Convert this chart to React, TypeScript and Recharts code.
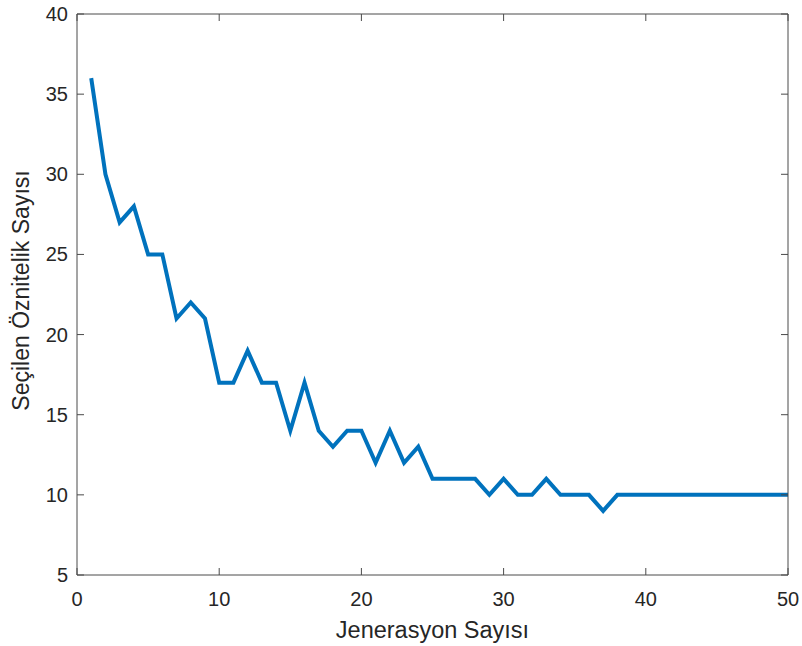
import React from 'react';
import { LineChart, Line, XAxis, YAxis, Label } from 'recharts';

const generations: number[] = [
  1, 2, 3, 4, 5, 6, 7, 8, 9, 10, 11, 12, 13, 14, 15, 16, 17, 18, 19, 20, 21, 22, 23, 24, 25,
  26, 27, 28, 29, 30, 31, 32, 33, 34, 35, 36, 37, 38, 39, 40, 41, 42, 43, 44, 45, 46, 47, 48, 49, 50,
];
const selectedFeatures: number[] = [
  36, 30, 27, 28, 25, 25, 21, 22, 21, 17, 17, 19, 17, 17, 14, 17, 14, 13, 14, 14, 12, 14, 12, 13, 11,
  11, 11, 11, 10, 11, 10, 10, 11, 10, 10, 10, 9, 10, 10, 10, 10, 10, 10, 10, 10, 10, 10, 10, 10, 10,
];
const xTicks: number[] = [0, 10, 20, 30, 40, 50];
const yTicks: number[] = [5, 10, 15, 20, 25, 30, 35, 40];
const xLabel = 'Jenerasyon Sayısı';
const yLabel = 'Seçilen Öznitelik Sayısı';

const data = generations.map((g, i) => ({ gen: g, count: selectedFeatures[i] }));

const FONT = '"Liberation Sans", Arial, Helvetica, sans-serif';
const AXIS = '#262626';
const AXIS_LINE = '#4a4a4a';
const TICK_LEN = 7;

const LeftTick = (props: any) => {
  const { x, y, payload } = props;
  return (
    <g>
      <line x1={x} x2={x + TICK_LEN} y1={y} y2={y} stroke={AXIS_LINE} strokeWidth={1} />
      <text x={x - 9} y={y} dy={7} textAnchor="end" fontSize={20} fill={AXIS} fontFamily={FONT}>
        {payload.value}
      </text>
    </g>
  );
};

const RightTick = (props: any) => {
  const { x, y } = props;
  return <line x1={x} x2={x - TICK_LEN} y1={y} y2={y} stroke={AXIS_LINE} strokeWidth={1} />;
};

const BottomTick = (props: any) => {
  const { x, y, payload } = props;
  return (
    <g>
      <line x1={x} x2={x} y1={y} y2={y - TICK_LEN} stroke={AXIS_LINE} strokeWidth={1} />
      <text x={x} y={y + 31} textAnchor="middle" fontSize={20} fill={AXIS} fontFamily={FONT}>
        {payload.value}
      </text>
    </g>
  );
};

const TopTick = (props: any) => {
  const { x, y } = props;
  return <line x1={x} x2={x} y1={y} y2={y + TICK_LEN} stroke={AXIS_LINE} strokeWidth={1} />;
};

export default function App() {
  return (
    <div style={{ position: 'absolute', left: 0, top: 0, background: '#fff' }}>
      <LineChart
        width={802}
        height={646}
        data={data}
        margin={{ top: 0, right: 0, bottom: 0, left: 0 }}
        style={{ fontFamily: FONT }}
      >
        <XAxis
          xAxisId="bottom"
          dataKey="gen"
          type="number"
          domain={[0, 50]}
          ticks={xTicks}
          height={71}
          tickSize={0}
          tickMargin={0}
          tickLine={false}
          tick={<BottomTick />}
          axisLine={{ stroke: AXIS_LINE, strokeWidth: 1 }}
          interval={0}
          allowDataOverflow
        >
          <Label
            content={(p: any) => {
              const vb = p.viewBox;
              return (
                <text
                  x={vb.x + vb.width / 2}
                  y={638}
                  textAnchor="middle"
                  fontSize={23.5}
                  fill={AXIS}
                  fontFamily={FONT}
                >
                  {xLabel}
                </text>
              );
            }}
          />
        </XAxis>
        <XAxis
          xAxisId="top"
          orientation="top"
          dataKey="gen"
          type="number"
          domain={[0, 50]}
          ticks={xTicks}
          height={14}
          tickSize={0}
          tickMargin={0}
          tickLine={false}
          tick={<TopTick />}
          axisLine={{ stroke: AXIS_LINE, strokeWidth: 1 }}
          interval={0}
          allowDataOverflow
        />
        <YAxis
          yAxisId="left"
          type="number"
          domain={[5, 40]}
          ticks={yTicks}
          width={77}
          tickSize={0}
          tickMargin={0}
          tickLine={false}
          tick={<LeftTick />}
          axisLine={{ stroke: AXIS_LINE, strokeWidth: 1 }}
          interval={0}
          allowDataOverflow
        >
          <Label
            content={(p: any) => {
              const vb = p.viewBox;
              const cx = 29;
              const cy = vb.y + vb.height / 2 - 4;
              return (
                <text
                  x={cx}
                  y={cy}
                  transform={`rotate(-90, ${cx}, ${cy})`}
                  textAnchor="middle"
                  fontSize={23}
                  fill={AXIS}
                  fontFamily={FONT}
                >
                  {yLabel}
                </text>
              );
            }}
          />
        </YAxis>
        <YAxis
          yAxisId="right"
          orientation="right"
          type="number"
          domain={[5, 40]}
          ticks={yTicks}
          width={14}
          tickSize={0}
          tickMargin={0}
          tickLine={false}
          tick={<RightTick />}
          axisLine={{ stroke: AXIS_LINE, strokeWidth: 1 }}
          interval={0}
          allowDataOverflow
        />
        <Line
          xAxisId="bottom"
          yAxisId="left"
          type="linear"
          dataKey="count"
          stroke="#0072BD"
          strokeWidth={4}
          dot={false}
          activeDot={false}
          isAnimationActive={false}
          strokeLinejoin="miter"
        />
      </LineChart>
    </div>
  );
}
